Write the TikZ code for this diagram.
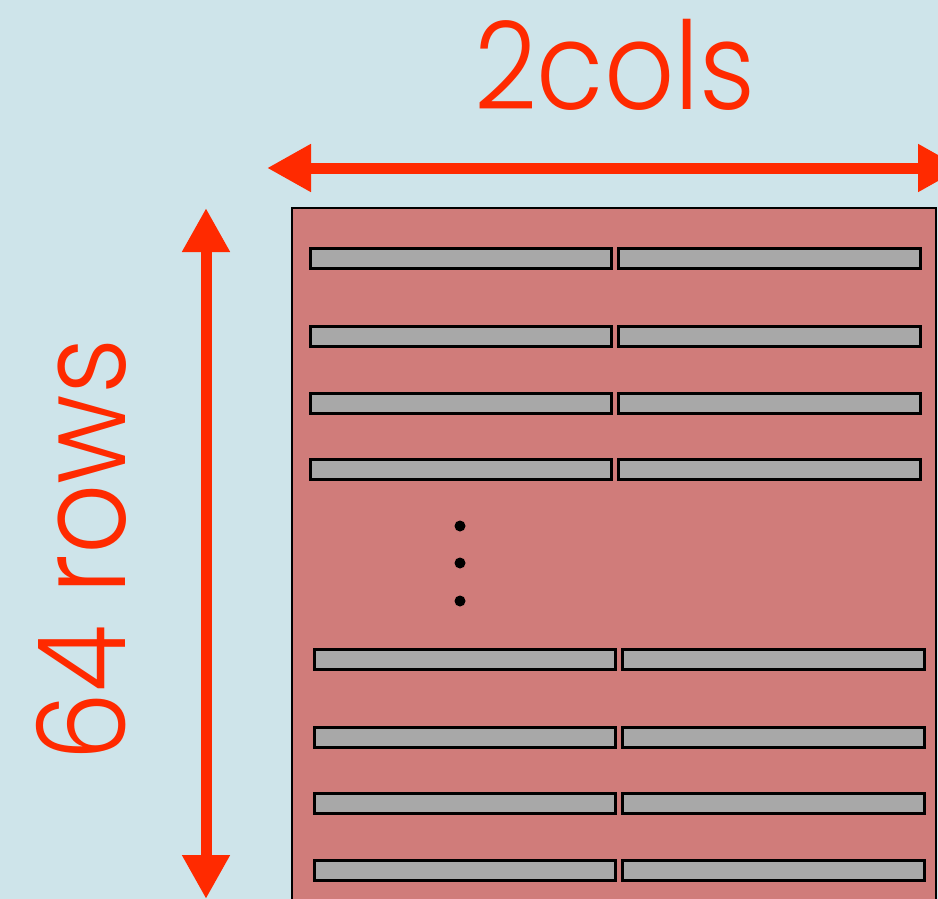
\documentclass[tikz,border=0pt]{standalone}
\usepackage{fontspec}
\setmainfont{Poppins Light}
\usetikzlibrary{arrows.meta}
\definecolor{bgblue}{HTML}{CEE4EA}
\definecolor{blockred}{HTML}{D07C7A}
\definecolor{bargray}{HTML}{A8A8A8}
\definecolor{dimred}{HTML}{FF2A00}
\tikzset{
  bar/.style={draw=black, line width=3pt, fill=bargray},
  dimarrow/.style={draw=dimred, line width=11pt,
    {Triangle[length=44pt,width=45pt]}-{Triangle[length=44pt,width=45pt]}},
  dimlabel/.style={text=dimred, font=\fontsize{122}{122}\selectfont, inner sep=0pt},
}
\newcommand{\narrowtext}[1]{\scalebox{0.9}[1]{#1}}
\begin{document}
\begin{tikzpicture}[x=1pt,y=-1pt]
  \useasboundingbox (0,0) rectangle (938,899);
  \clip (0,0) rectangle (938,899);
  \fill[bgblue] (0,0) rectangle (938,899);

  % memory block
  \filldraw[fill=blockred, draw=black, line width=2.6pt] (292,208) rectangle (936,960);

  % upper rows
  \foreach \y in {248,326,393,459} {
    \draw[bar] (310,\y) rectangle (611,\y+20);
    \draw[bar] (618,\y) rectangle (920,\y+20);
  }
  % lower rows
  \foreach \y in {649,727,793,860} {
    \draw[bar] (314,\y) rectangle (615,\y+20);
    \draw[bar] (622,\y) rectangle (924,\y+20);
  }
  % ellipsis
  \foreach \y in {526,563,601}
    \fill[black] (460,\y) circle (5.5);

  % dimension arrows
  \coordinate (wl) at (267,168);
  \coordinate (wr) at (962,168);
  \coordinate (ht) at (206,208);
  \coordinate (hb) at (206,899);
  \draw[dimarrow] (wl) -- (wr);
  \draw[dimarrow] (ht) -- (hb);

  % labels
  \node[dimlabel, anchor=base] (cols) at (615,110) {\narrowtext{2cols}};
  \node[dimlabel, anchor=base, rotate=90] (rows) at (125,550) {\narrowtext{64 rows}};
\end{tikzpicture}
\end{document}
